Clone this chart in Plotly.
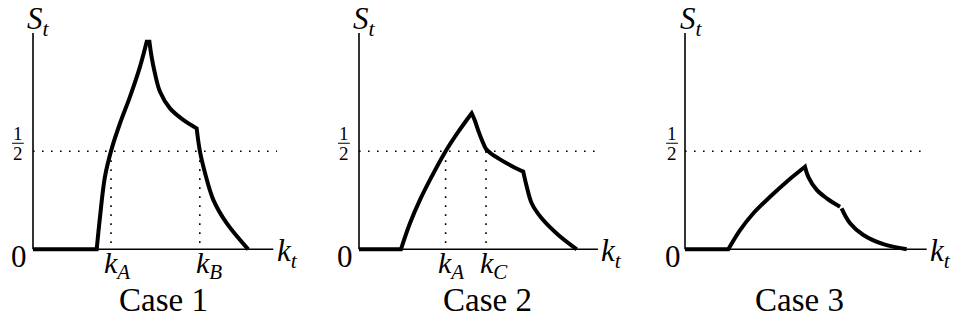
import plotly.graph_objects as go

# ---- data: the three share-of-support curves S_t(k_t) ----
case1_k = [0.0, 0.325, 0.342, 0.367, 0.402, 0.444, 0.495, 0.546, 0.580, 0.594,
           0.605, 0.622, 0.648, 0.699, 0.767, 0.835, 0.852, 0.878, 0.920, 0.988, 1.098]
case1_s = [0.0, 0.0, 0.166, 0.370, 0.515, 0.643, 0.779, 0.932, 1.059, 1.059,
           0.983, 0.898, 0.804, 0.719, 0.660, 0.617, 0.498, 0.388, 0.252, 0.133, 0.0]
case1_corners = [1, 8, 9, 15]

case2_k = [0.0, 0.214, 0.260, 0.311, 0.362, 0.442, 0.507, 0.575, 0.592, 0.609, 0.628,
           0.648, 0.673, 0.711, 0.779, 0.838, 0.856, 0.881, 0.932, 1.017, 1.111]
case2_s = [0.0, 0.0, 0.133, 0.252, 0.354, 0.500, 0.600, 0.694, 0.655, 0.604, 0.555,
           0.512, 0.489, 0.464, 0.425, 0.396, 0.319, 0.235, 0.158, 0.073, 0.0]
case2_corners = [1, 7, 15]

case3_k = [0.0, 0.221, 0.281, 0.349, 0.434, 0.519, 0.612, 0.629, 0.672, 0.723, 0.791,
           None, 0.799, 0.842, 0.910, 1.012, 1.131]
case3_s = [0.0, 0.0, 0.098, 0.184, 0.268, 0.345, 0.421, 0.370, 0.303, 0.260, 0.217,
           None, 0.209, 0.133, 0.073, 0.026, 0.0]
case3_corners = [1, 6]

half_level = 0.5
case1_marks = [("k", "A", 0.398), ("k", "B", 0.851)]
case2_marks = [("k", "A", 0.442), ("k", "C", 0.648)]
case3_marks = []
case_titles = ["Case 1", "Case 2", "Case 3"]

# ---- layout geometry ----
W, H = 958, 322
PX = 196.0                  # pixels per data unit on both axes
BASE_Y = 249.3              # pixel row of the k_t axis
Y_RANGE = [-(H - BASE_Y) / PX, BASE_Y / PX]

panels = [
    dict(k=case1_k, s=case1_s, corners=case1_corners, marks=case1_marks,
         title=case_titles[0], x0=33, dom=(0, 320), xend=1.226, yend=1.104,
         dot_end=1.245, st_k=0.03, zero_k=-0.074, frac_k=-0.077, kt_k=1.30,
         mark_lab=[0.43, 0.898], title_k=0.668),
    dict(k=case2_k, s=case2_s, corners=case2_corners, marks=case2_marks,
         title=case_titles[1], x0=359, dom=(320, 640), xend=1.219, yend=1.104,
         dot_end=1.213, st_k=0.03, zero_k=-0.071, frac_k=-0.077, kt_k=1.29,
         mark_lab=[0.469, 0.689], title_k=0.656),
    dict(k=case3_k, s=case3_s, corners=case3_corners, marks=case3_marks,
         title=case_titles[2], x0=685, dom=(640, 958), xend=1.233, yend=1.104,
         dot_end=1.208, st_k=0.035, zero_k=-0.059, frac_k=-0.066, kt_k=1.305,
         mark_lab=[], title_k=0.582),
]


def with_corners(xs, ys, corners):
    """Repeat kink points so the spline keeps a sharp corner there."""
    ox, oy = [], []
    for i, (x, y) in enumerate(zip(xs, ys)):
        ox.append(x)
        oy.append(y)
        if i in corners:
            ox.append(x)
            oy.append(y)
    return ox, oy


FONT = "Liberation Serif"
DOTS = "1.6px,7.4px"
fig = go.Figure()
annotations = []
shapes = []
layout_axes = {}

for i, p in enumerate(panels, start=1):
    xa = "x" if i == 1 else f"x{i}"
    ya = "y" if i == 1 else f"y{i}"
    xkey = "xaxis" if i == 1 else f"xaxis{i}"
    ykey = "yaxis" if i == 1 else f"yaxis{i}"
    d0, d1 = p["dom"]
    layout_axes[xkey] = dict(domain=[d0 / W, d1 / W],
                             range=[(d0 - p["x0"]) / PX, (d1 - p["x0"]) / PX],
                             visible=False, anchor=ya, fixedrange=True)
    layout_axes[ykey] = dict(domain=[0, 1], range=Y_RANGE, visible=False,
                             anchor=xa, fixedrange=True)

    # dotted reference level S = 1/2
    fig.add_trace(go.Scatter(x=[0, p["dot_end"]], y=[half_level, half_level],
                             mode="lines", xaxis=xa, yaxis=ya, hoverinfo="skip",
                             line=dict(color="black", width=1.6, dash=DOTS)))
    # dotted drops from the crossings to the axis
    for (_, _, km) in p["marks"]:
        fig.add_trace(go.Scatter(x=[km, km], y=[half_level, 0], mode="lines",
                                 xaxis=xa, yaxis=ya, hoverinfo="skip",
                                 line=dict(color="black", width=1.6, dash=DOTS)))
    # axes
    fig.add_trace(go.Scatter(x=[0, p["xend"]], y=[0, 0], mode="lines",
                             xaxis=xa, yaxis=ya, hoverinfo="skip",
                             line=dict(color="black", width=1.6)))
    fig.add_trace(go.Scatter(x=[0, 0], y=[0, p["yend"]], mode="lines",
                             xaxis=xa, yaxis=ya, hoverinfo="skip",
                             line=dict(color="black", width=1.6)))
    # the curve itself
    cx, cy = with_corners(p["k"], p["s"], p["corners"])
    fig.add_trace(go.Scatter(x=cx, y=cy, mode="lines", xaxis=xa, yaxis=ya,
                             hoverinfo="skip", connectgaps=False,
                             line=dict(color="black", width=4, shape="spline",
                                       smoothing=1.0)))

    def note(text, kx, sy, size):
        annotations.append(dict(text=text, x=kx, y=sy, xref=xa, yref=ya,
                                showarrow=False, xanchor="center", yanchor="middle",
                                font=dict(family=FONT, size=size, color="black")))

    note("<i>S</i><sub><i>t</i></sub>", p["st_k"], 1.165, 31)
    note("<i>k</i><sub><i>t</i></sub>", p["kt_k"], -0.02, 31)
    note("0", p["zero_k"], -0.035, 31)
    note("1", p["frac_k"], 0.590, 19)
    note("2", p["frac_k"], 0.487, 19)
    shapes.append(dict(type="line", xref=xa, yref=ya,
                       x0=p["frac_k"] - 0.03, x1=p["frac_k"] + 0.03,
                       y0=0.541, y1=0.541, line=dict(color="black", width=1)))
    for (sym, sub, _), lab_k in zip(p["marks"], p["mark_lab"]):
        note(f"<i>{sym}</i><sub><i>{sub}</i></sub>", lab_k, -0.078, 30)
    note(p["title"], p["title_k"], -0.258, 33)

fig.update_layout(
    width=W, height=H,
    margin=dict(l=0, r=0, t=0, b=0),
    paper_bgcolor="white", plot_bgcolor="white",
    showlegend=False, font=dict(family=FONT, color="black"),
    annotations=annotations, shapes=shapes,
    **layout_axes,
)

fig.write_html("out.html", config={"displayModeBar": False})
